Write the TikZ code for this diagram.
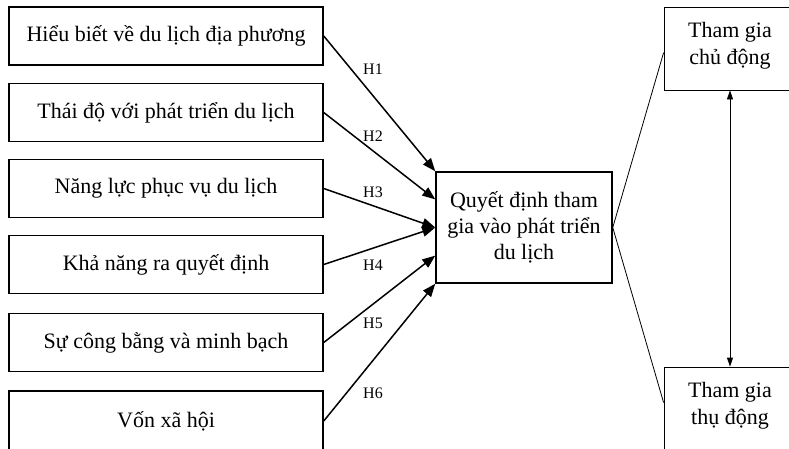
\documentclass[tikz,border=0pt]{standalone}
\usepackage{fontspec}
\setmainfont{Liberation Serif}
\usetikzlibrary{arrows.meta,calc}
\begin{document}
\begin{tikzpicture}[x=1pt,y=-1pt,
  lbox/.style={draw,line width=1.5pt,minimum width=314pt,minimum height=58pt,inner sep=0pt,font=\fontsize{22}{26}\selectfont},
  cbox/.style={draw,line width=1.5pt,minimum width=176pt,minimum height=111pt,inner sep=0pt,align=center,font=\fontsize{22}{26}\selectfont},
  rbox/.style={draw,line width=0.8pt,minimum width=132pt,inner sep=0pt},
  rtext/.style={align=center,font=\fontsize{22}{27}\selectfont},
  harrow/.style={line width=1.5pt,-{Triangle[length=13pt,width=10pt]}},
  hlab/.style={font=\fontsize{16}{18}\selectfont},
  thin/.style={line width=0.8pt}]
\useasboundingbox (0,0) rectangle (789,448);
\clip (0,0) rectangle (789,448);
\node[lbox] (b1) at (166,36) {Hiểu biết về du lịch địa phương};
\node[lbox] (b2) at (166,112.5) {Thái độ với phát triển du lịch};
\node[lbox] (b3) at (166,188.5) {Năng lực phục vụ du lịch};
\node[lbox] (b4) at (166,264.5) {Khả năng ra quyết định};
\node[lbox] (b5) at (166,342.5) {Sự công bằng và minh bạch};
\node[lbox,minimum height=60pt] (b6) at (166,421) {Vốn xã hội};
\node[cbox] (c) at (524,227.5) {Quyết định tham\\gia vào phát triển\\du lịch};
\node[rbox,minimum height=83pt] (t) at (730,48.5) {};
\node[rtext] (tt) at (730,46) {Tham gia\\chủ động};
\node[rbox,minimum height=90pt] (bb) at (730,412) {};
\node[rtext] (bt) at (730,406) {Tham gia\\thụ động};
\coordinate (c2) at ($(c.north west)!0.25!(c.south west)$);
\coordinate (c5) at ($(c.north west)!0.75!(c.south west)$);
\coordinate (bw) at ($(bb.north west)+(0,36)$);
\draw[harrow] (b1.east) -- (c.north west);
\draw[harrow] (b2.east) -- (c2);
\draw[harrow] (b3.east) -- (c.west);
\draw[harrow] (b4.east) -- (c.west);
\draw[harrow] (b5.east) -- (c5);
\draw[harrow] (b6.east) -- (c.south west);
\node[hlab] (h1) at (373,69) {H1};
\node[hlab] (h2) at (373,136) {H2};
\node[hlab] (h3) at (373,192) {H3};
\node[hlab] (h4) at (373,265) {H4};
\node[hlab] (h5) at (373,323) {H5};
\node[hlab] (h6) at (373,393) {H6};
\draw[thin] (c.east) -- ($(t.north west)+(0,46)$);
\draw[thin] (c.east) -- (bw);
\draw[thin,{Triangle[length=9pt,width=6pt]}-{Triangle[length=9pt,width=6pt]}] (t.south) -- (bb.north);
\end{tikzpicture}
\end{document}
